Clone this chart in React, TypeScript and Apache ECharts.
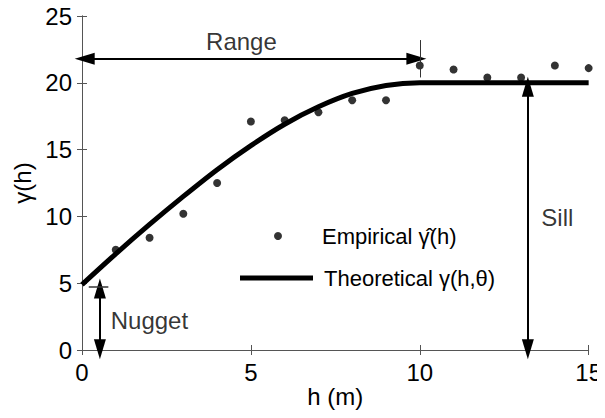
import React, { useEffect, useRef } from "react";
import * as echarts from "echarts";

// Empirical variogram points
const lagH = [1, 2, 3, 4, 5, 6, 7, 8, 9, 10, 11, 12, 13, 14, 15];
const empiricalGamma = [7.5, 8.4, 10.2, 12.5, 17.1, 17.2, 17.8, 18.7, 18.7, 21.3, 21.0, 20.4, 20.4, 21.3, 21.1];

// Theoretical (fitted) model
const curveH = [0, 1, 2, 3, 4, 5, 6, 7, 8, 9, 10, 11, 15];
const curveGamma = [4.9, 7.2, 9.4, 11.5, 13.5, 15.3, 16.9, 18.2, 19.2, 19.8, 20.0, 20.0, 20.0];

// Axis ticks
const xTicks = [0, 5, 10, 15];
const yTicks = [0, 5, 10, 15, 20, 25];

// Annotations
const rangeArrow = [[0.08, 21.8], [9.9, 21.8]];
const rangeEnd = [[10, 23.2], [10, 20.4]];
const sillArrow = [[13.2, 19.7], [13.2, 0.05]];
const nuggetArrow = [[0.53, 4.6], [0.53, 0.05]];
const nuggetBar = [[0.2, 4.75], [0.78, 4.75]];
const centerLabels = [[4.72, 23.1, "Range"]];
const leftLabels = [[13.6, 9.9, "Sill"], [0.85, 2.2, "Nugget"]];

const FONT = "'Liberation Sans', Arial, Helvetica, sans-serif";
const empName = "Empirical \u03B3\u0302(h)";
const theoName = "Theoretical \u03B3(h,\u03B8)";

export default function App() {
  const ref = useRef<HTMLDivElement>(null);
  useEffect(() => {
    if (!ref.current) return;
    const chart = echarts.init(ref.current, undefined, { renderer: "svg" });
    const axisLine = { show: true, lineStyle: { color: "#555", width: 1 } };
    const tickInside = { show: true, inside: true, length: 5, lineStyle: { color: "#555" } };
    const arrowLine = (pts: number[][]) => [
      { coord: pts[0], symbol: "triangle" },
      { coord: pts[1], symbol: "triangle" },
    ];
    chart.setOption({
      animation: false,
      textStyle: { fontFamily: FONT },
      grid: { left: 82, right: 14, top: 16, bottom: 68 },
      legend: [
        {
          data: [{ name: empName, icon: "circle" }],
          left: 274,
          top: 225,
          padding: 0,
          itemWidth: 8,
          itemHeight: 8,
          selectedMode: false,
          textStyle: { fontSize: 22, color: "#000", fontFamily: FONT, padding: [0, 0, 0, 35] },
        },
        {
          data: [{ name: theoName, icon: "rect" }],
          left: 240,
          top: 267,
          padding: 0,
          itemWidth: 73,
          itemHeight: 5,
          selectedMode: false,
          textStyle: { fontSize: 22, color: "#000", fontFamily: FONT, padding: [0, 0, 0, 6] },
        },
      ],
      xAxis: [
        {
          type: "value",
          min: 0,
          max: 15,
          interval: 5,
          name: "h (m)",
          nameLocation: "middle",
          nameGap: 34,
          nameMoveOverlap: false,
          nameTextStyle: { fontSize: 24, color: "#000", fontFamily: FONT },
          axisLine,
          axisTick: tickInside,
          axisLabel: {
            fontSize: 24,
            color: "#000",
            margin: 10,
            fontFamily: FONT,
            customValues: xTicks,
          },
          splitLine: { show: false },
        },
        {
          type: "value",
          position: "top",
          min: 0,
          max: 15,
          interval: 5,
          axisLine,
          axisTick: tickInside,
          axisLabel: { show: false },
          splitLine: { show: false },
        },
      ],
      yAxis: [
        {
          type: "value",
          min: 0,
          max: 25,
          interval: 5,
          name: "\u03B3(h)",
          nameLocation: "middle",
          nameGap: 48,
          nameMoveOverlap: false,
          nameTextStyle: { fontSize: 24, color: "#000", fontFamily: FONT },
          axisLine,
          axisTick: tickInside,
          axisLabel: { fontSize: 24, color: "#000", margin: 10, fontFamily: FONT, customValues: yTicks },
          splitLine: { show: false },
        },
        {
          type: "value",
          position: "right",
          min: 0,
          max: 25,
          interval: 5,
          axisLine,
          axisTick: tickInside,
          axisLabel: { show: false },
          splitLine: { show: false },
        },
      ],
      series: [
        {
          name: theoName,
          type: "line",
          data: curveH.map((h, i) => [h, curveGamma[i]]),
          smooth: 0.3,
          showSymbol: false,
          symbol: "none",
          lineStyle: { color: "#000", width: 5 },
          itemStyle: { color: "#000" },
          z: 3,
        },
        {
          name: empName,
          type: "scatter",
          data: lagH.map((h, i) => [h, empiricalGamma[i]]),
          symbol: "circle",
          symbolSize: 8,
          itemStyle: { color: "#000" },
          z: 4,
        },
        {
          name: "annotations",
          type: "line",
          data: [],
          markLine: {
            silent: true,
            animation: false,
            symbolSize: [12, 20],
            label: { show: false },
            lineStyle: { color: "#000", width: 2, type: "solid" },
            data: [
              arrowLine(rangeArrow),
              arrowLine(sillArrow),
              arrowLine(nuggetArrow),
              [
                { coord: rangeEnd[0], symbol: "none", lineStyle: { width: 1, color: "#333" } },
                { coord: rangeEnd[1], symbol: "none" },
              ],
              [
                { coord: nuggetBar[0], symbol: "none", lineStyle: { width: 1.5, color: "#333" } },
                { coord: nuggetBar[1], symbol: "none" },
              ],
            ],
          },
        },
        {
          name: "centerText",
          type: "scatter",
          data: centerLabels,
          symbolSize: 0,
          silent: true,
          label: {
            show: true,
            position: "inside",
            formatter: (p: any) => p.value[2],
            fontSize: 24,
            color: "#000",
            fontFamily: FONT,
          },
        },
        {
          name: "leftText",
          type: "scatter",
          data: leftLabels,
          symbolSize: 0,
          silent: true,
          label: {
            show: true,
            position: "right",
            distance: 0,
            formatter: (p: any) => p.value[2],
            fontSize: 24,
            color: "#000",
            fontFamily: FONT,
          },
        },
      ],
    });
    return () => chart.dispose();
  }, []);
  return <div ref={ref} style={{ width: 605, height: 418, margin: -8 }} />;
}
